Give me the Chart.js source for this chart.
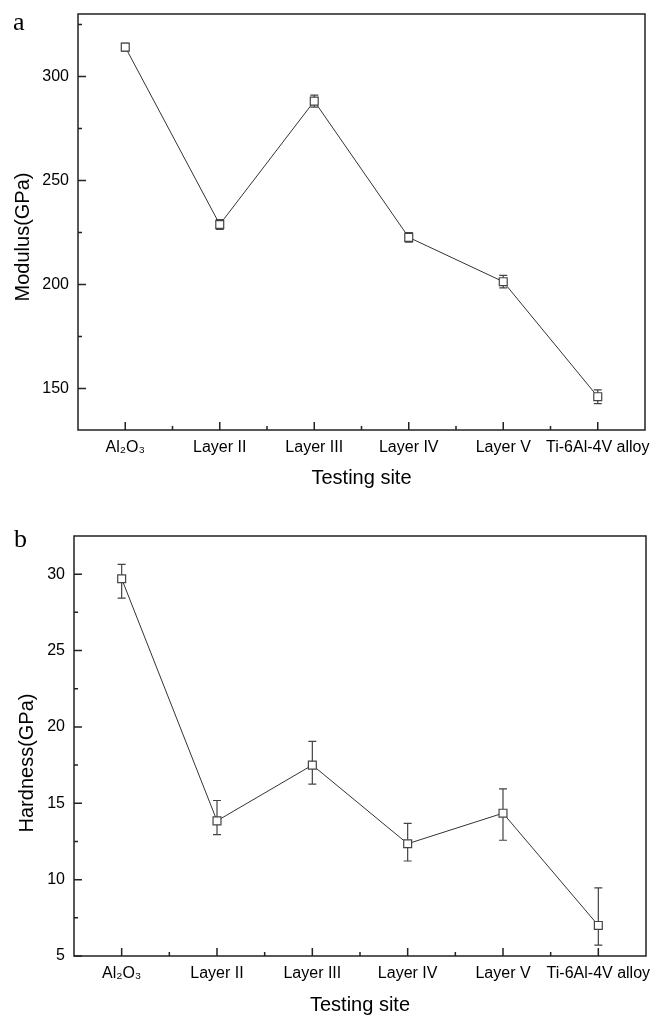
<!DOCTYPE html>
<html><head><meta charset="utf-8">
<script src="https://cdn.jsdelivr.net/npm/chart.js@4.4.1/dist/chart.umd.min.js"></script>
<style>
html,body{margin:0;padding:0;background:#fff;width:654px;height:1015px;overflow:hidden}
.box{position:absolute;left:0;width:654px}
canvas{display:block}
</style></head><body>
<div class="box" style="top:0;height:500px"><canvas id="c1" width="654" height="500"></canvas></div>
<div class="box" style="top:500px;height:515px"><canvas id="c2" width="654" height="515"></canvas></div>
<script>
const categories = ['Al\u2082O\u2083', 'Layer II', 'Layer III', 'Layer IV', 'Layer V', 'Ti-6Al-4V alloy'];

const modulus = [314.1, 228.8, 288.1, 222.6, 201.3, 146.0];
const modulusErr = [1.8, 2.4, 2.9, 2.3, 3.0, 3.3];
const modulusTicks = [150, 200, 250, 300];
const modulusMinorTicks = [175, 225, 275, 325];

const hardness = [29.7, 13.85, 17.5, 12.35, 14.35, 7.0];
const hardnessErrPlus = [0.94, 1.33, 1.55, 1.33, 1.59, 2.46];
const hardnessErrMinus = [1.27, 0.9, 1.24, 1.13, 1.77, 1.29];
const hardnessTicks = [5, 10, 15, 20, 25, 30];
const hardnessMinorTicks = [7.5, 12.5, 17.5, 22.5, 27.5];

const SANS = '"Liberation Sans", Arial, sans-serif';
const SERIF = '"Liberation Serif", "Times New Roman", serif';

const framePlugin = {
  id: 'frame',
  beforeDatasetsDraw(chart, args, o) {
    const ctx = chart.ctx, xs = chart.scales.x, ys = chart.scales.y;
    const vals = chart.data.datasets[0].data;
    ctx.save();
    ctx.strokeStyle = '#444';
    ctx.lineWidth = 1.2;
    vals.forEach((v, i) => {
      const x = xs.getPixelForValue(i);
      const yt = ys.getPixelForValue(v + o.errPlus[i]);
      const yb = ys.getPixelForValue(v - o.errMinus[i]);
      ctx.beginPath();
      ctx.moveTo(x, yt); ctx.lineTo(x, yb);
      ctx.moveTo(x - 4, yt); ctx.lineTo(x + 4, yt);
      ctx.moveTo(x - 4, yb); ctx.lineTo(x + 4, yb);
      ctx.stroke();
    });
    ctx.restore();
  },
  afterDraw(chart, args, o) {
    const ctx = chart.ctx, a = chart.chartArea, xs = chart.scales.x, ys = chart.scales.y;
    ctx.save();
    ctx.strokeStyle = '#222';
    ctx.lineWidth = 1.5;
    ctx.strokeRect(a.left, a.top, a.right - a.left, a.bottom - a.top);
    ctx.beginPath();
    o.majorY.forEach(v => { const y = ys.getPixelForValue(v); ctx.moveTo(a.left, y); ctx.lineTo(a.left + 8, y); });
    o.minorY.forEach(v => { const y = ys.getPixelForValue(v); if (y > a.top + 1) { ctx.moveTo(a.left, y); ctx.lineTo(a.left + 4, y); } });
    const n = chart.data.labels.length;
    for (let i = 0; i < n; i++) { const x = xs.getPixelForValue(i); ctx.moveTo(x, a.bottom); ctx.lineTo(x, a.bottom - 8); }
    for (let i = 0; i < n - 1; i++) { const x = xs.getPixelForValue(i + 0.5); ctx.moveTo(x, a.bottom); ctx.lineTo(x, a.bottom - 4); }
    ctx.stroke();
    ctx.fillStyle = '#000';
    ctx.font = '20px ' + SANS;
    ctx.textAlign = 'center';
    ctx.textBaseline = 'middle';
    ctx.translate(o.yTitleX, (a.top + a.bottom) / 2 + o.yTitleShift);
    ctx.rotate(-Math.PI / 2);
    ctx.fillText(o.yTitle, 0, 0);
    ctx.restore();
    ctx.save();
    ctx.fillStyle = '#000';
    ctx.font = '26px ' + SERIF;
    ctx.textAlign = 'left';
    ctx.textBaseline = 'alphabetic';
    ctx.fillText(o.letter, o.letterX, o.letterY);
    ctx.restore();
  }
};

function noPad(s) { s.paddingLeft = 0; s.paddingRight = 0; s.paddingTop = 0; s.paddingBottom = 0; }

function makeChart(id, values, errPlus, errMinus, yMin, yMax, majorTicks, minorTicks, pad, yWidth, xHeight, frameOpts, xTitlePad) {
  return new Chart(document.getElementById(id), {
    type: 'line',
    data: {
      labels: categories,
      datasets: [{
        data: values,
        borderColor: '#333',
        borderWidth: 1,
        tension: 0,
        fill: false,
        pointStyle: 'rect',
        pointRadius: 5.6,
        pointBackgroundColor: '#fff',
        pointBorderColor: '#444',
        pointBorderWidth: 1.2
      }]
    },
    options: {
      responsive: false,
      animation: false,
      events: [],
      layout: { padding: pad },
      plugins: {
        legend: { display: false },
        tooltip: { enabled: false },
        frame: Object.assign({ errPlus: errPlus, errMinus: errMinus, majorY: majorTicks, minorY: minorTicks }, frameOpts)
      },
      scales: {
        x: {
          type: 'category',
          offset: true,
          grid: { display: false, drawTicks: false, tickLength: 0 },
          border: { display: false },
          ticks: { color: '#000', font: { family: SANS, size: 16 }, padding: 8, maxRotation: 0, autoSkip: false },
          title: { display: true, text: 'Testing site', color: '#000', font: { family: SANS, size: 20 }, padding: { top: 0, bottom: xTitlePad } },
          afterFit: s => { s.height = xHeight; noPad(s); }
        },
        y: {
          min: yMin, max: yMax,
          grid: { display: false, drawTicks: false, tickLength: 0 },
          border: { display: false },
          ticks: { color: '#000', font: { family: SANS, size: 16 }, padding: 9 },
          afterBuildTicks: s => { s.ticks = majorTicks.map(v => ({ value: v })); },
          afterFit: s => { s.width = yWidth; noPad(s); }
        }
      }
    },
    plugins: [framePlugin]
  });
}

makeChart('c1', modulus, modulusErr, modulusErr, 130, 330, modulusTicks, modulusMinorTicks,
  { top: 14, right: 9, left: 0, bottom: 0 }, 78, 70,
  { yTitle: 'Modulus(GPa)', yTitleX: 23, yTitleShift: 15, letter: 'a', letterX: 13, letterY: 30 }, 10);

makeChart('c2', hardness, hardnessErrPlus, hardnessErrMinus, 5, 32.5, hardnessTicks, hardnessMinorTicks,
  { top: 36, right: 8, left: 0, bottom: 0 }, 74, 59,
  { yTitle: 'Hardness(GPa)', yTitleX: 27, yTitleShift: 17, letter: 'b', letterX: 14, letterY: 47 }, -2);
</script>
</body></html>
